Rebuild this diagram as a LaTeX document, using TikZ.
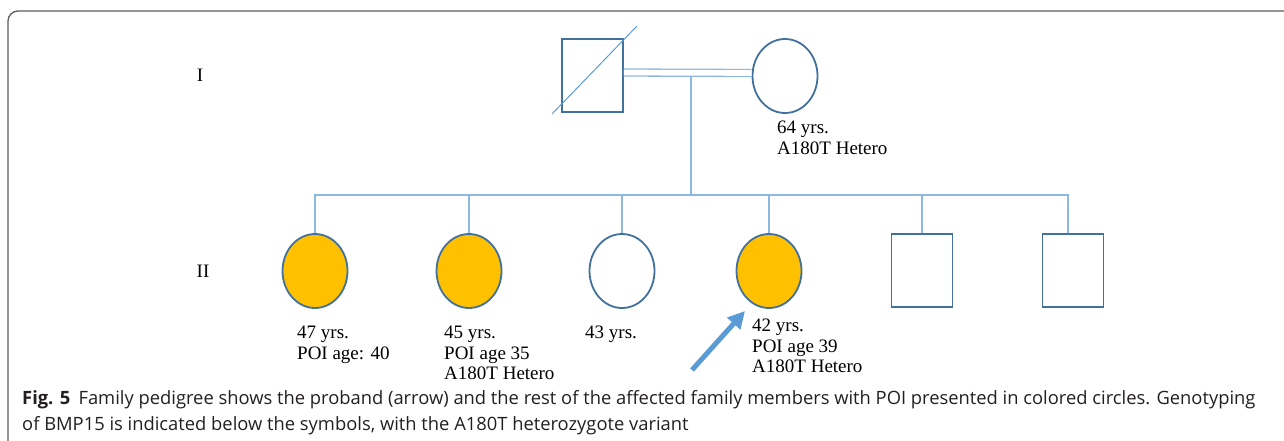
\documentclass[tikz,border=0pt]{standalone}
\usepackage{fontspec}
\setmainfont{Liberation Serif}
\newfontfamily\capfont{Open Sans}
\usetikzlibrary{arrows.meta,shapes.geometric}
\definecolor{outl}{HTML}{41719C}
\definecolor{rel}{HTML}{8DB8E3}
\definecolor{arr}{HTML}{5B9BD5}
\definecolor{poi}{HTML}{FFC000}
\definecolor{framegray}{HTML}{5A5A5A}
\definecolor{captext}{HTML}{231F20}

\begin{document}
\begin{tikzpicture}[x=1pt, y=-1pt, >=Stealth,
    female/.style={ellipse, draw=outl, line width=1.8pt, minimum width=65pt, minimum height=74pt, inner sep=0pt},
    male/.style={rectangle, draw=outl, line width=1.8pt, minimum width=61pt, minimum height=73pt, inner sep=0pt},
    affected/.style={fill=poi},
    line/.style={draw=rel, line width=1.3pt},
    proband/.style={draw=arr, line width=5pt, -{Triangle[length=17pt,width=17pt]}},
    info/.style={anchor=north west, align=left, inner sep=0pt, font=\fontsize{19}{20.5}\selectfont},
    gen/.style={inner sep=0pt, font=\fontsize{19}{20.5}\selectfont},
    caption/.style={anchor=base west, inner sep=0pt, text=captext, font=\capfont\fontsize{18.35}{22}\selectfont}]
        \useasboundingbox (0,0) rectangle (1284,440);
        % open frame round the figure
        \draw[framegray, line width=1.3pt, rounded corners=10pt] (8,441) -- (8,11) -- (1285,11);
        % generations
        \node [gen] (gI) at (200,75) {I};
        \node [gen] (gII) at (203,271) {II};
        % generation I
        \node [male] (father) at (592.5,75.5) {};
        \draw [line, draw=arr, line width=1pt] ([shift={(-9,1)}]father.south west) -- ([shift={(13,-12)}]father.north east);
        \node [female] (mother) at (785,76) {};
        \draw [line, double=white, double distance=5.7pt] ([yshift=3pt]father.east) -- ([yshift=3pt]mother.west);
        \node [info] (l0) at (777,121) {64 yrs.\\A180T Hetero};
        \coordinate (mid) at (691,76);
        \coordinate (sib) at (691,195);
        \draw [line] (mid) -- (sib);
        % generation II
        \node [female, affected] (c1) at (315,271) {};
        \node [female, affected] (c2) at (469,271) {};
        \node [female] (c3) at (622,271) {};
        \node [female, affected] (c4) at (769,271) {};
        \node [male] (c5) at (922,270.5) {};
        \node [male] (c6) at (1073,270.5) {};
        \draw [line] (c1.north) -- (c1.north |- sib) -- ([xshift=-5pt]c6.north |- sib) -- ([xshift=-5pt]c6.north);
        \draw [line] (c2.north |- sib) -- (c2.north);
        \draw [line] (c3.north |- sib) -- (c3.north);
        \draw [line] (c4.north |- sib) -- (c4.north);
        \draw [line] (c5.north |- sib) -- (c5.north);
        \node [info] (l1) at (297,326) {47 yrs.\\POI age: 40};
        \node [info] (l2) at (444,326) {45 yrs.\\POI age 35\\A180T Hetero};
        \node [info] (l3) at (585,326) {43 yrs.};
        \node [info] (l4) at (752,319) {42 yrs.\\POI age 39\\A180T Hetero};
        % proband
        \coordinate (pb) at (692,370);
        \coordinate (ptip) at (745,311);
        \draw [proband] (pb) -- (ptip);
        % caption
        \node [caption] (cap1) at (22,404)
            {\textbf{Fig. 5}\hspace{0.45em}Family pedigree shows the proband (arrow) and the rest of the affected family members with POI presented in colored circles. Genotyping};
        \node [caption] (cap2) at (22,430)
            {of BMP15 is indicated below the symbols, with the A180T heterozygote variant};
\end{tikzpicture}
\end{document}
